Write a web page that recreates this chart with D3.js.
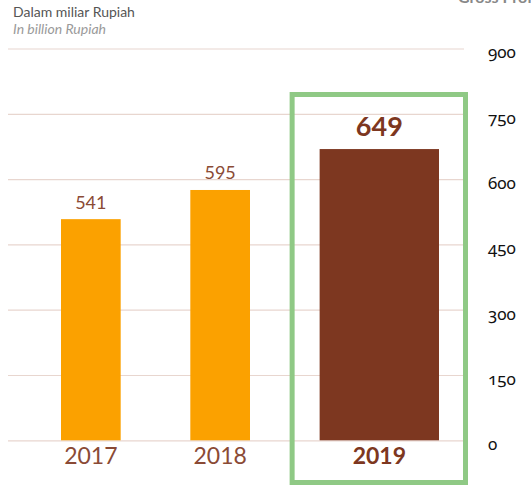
<!DOCTYPE html>
<html><head><meta charset="utf-8">
<script src="https://cdn.jsdelivr.net/npm/d3@7"></script>
<style>
html,body{margin:0;padding:0;background:#fff;overflow:hidden;}
svg{display:block;}
.tick-lbl{font-family:"Noto Sans",sans-serif;font-feature-settings:"onum" 1;font-variant-numeric:oldstyle-nums;}
</style></head>
<body>
<svg id="c" width="531" height="486"></svg>
<script>
const years = ["2017", "2018", "2019"];
const labelValues = [541, 595, 649];
const barValues = [508, 575, 669];   // bar heights as drawn in the reference
const highlight = [false, false, true];
const yTicks = [0, 150, 300, 450, 600, 750, 900];

const svg = d3.select("#c");
const W = 531, H = 486;

const y = d3.scaleLinear().domain([0, 900]).range([440.3, 48.5]);

// horizontal layout: normal bars 1 unit wide, highlighted bar 2 units, constant gap
const gap = 70 / 60;
const widths = highlight.map(h => h ? 2 : 1);
const starts = [];
let acc = 0;
widths.forEach((w, i) => { starts.push(acc); acc += w + (i < widths.length - 1 ? gap : 0); });
const x = d3.scaleLinear().domain([0, acc]).range([61, 439]);

// gridlines + right axis
const axis = d3.axisRight(y).tickValues(yTicks).tickSize(-(464 - 8)).tickPadding(24);
const g = svg.append("g").attr("transform", "translate(464,0)").call(axis);
g.select(".domain").remove();
g.selectAll(".tick line").attr("stroke", "#e8d6cf").attr("stroke-width", 1.2);
g.selectAll(".tick text").attr("class", "tick-lbl").attr("fill", "#111")
  .attr("font-size", 17).attr("dy", "0.55em").attr("x", 24);

// headers
svg.append("text").attr("x", 13).attr("y", 17).attr("font-family", "Lato, 'Noto Sans', sans-serif")
  .attr("font-size", 14).attr("fill", "#555").text("Dalam miliar Rupiah");
svg.append("text").attr("x", 13).attr("y", 34).attr("font-family", "Lato, 'Noto Sans', sans-serif")
  .attr("font-size", 14).attr("font-style", "italic").attr("fill", "#9a9a9a").text("In billion Rupiah");
svg.append("text").attr("x", 458).attr("y", 3).attr("font-family", "Lato, 'Noto Sans', sans-serif")
  .attr("font-size", 16).attr("font-weight", "bold").attr("fill", "#888").text("Gross Profit");

// bars
const data = years.map((yr, i) => ({yr, label: labelValues[i], v: barValues[i], hl: highlight[i], s: starts[i], w: widths[i]}));

svg.selectAll("rect.bar").data(data).join("rect").attr("class", "bar")
  .attr("x", d => x(d.s)).attr("width", d => x(d.s + d.w) - x(d.s))
  .attr("y", d => y(d.v)).attr("height", d => y(0) - y(d.v))
  .attr("fill", d => d.hl ? "#7d3720" : "#fba100");

// value labels
svg.selectAll("text.val").data(data).join("text").attr("class", "val")
  .attr("x", d => x(d.s + d.w / 2)).attr("y", d => y(d.v) - (d.hl ? 13 : 10.5))
  .attr("text-anchor", "middle").attr("font-family", "Lato, 'Noto Sans', sans-serif")
  .attr("font-size", d => d.hl ? 27 : 18).attr("font-weight", d => d.hl ? "bold" : "normal")
  .attr("fill", d => d.hl ? "#7d3720" : "#8a4a35").text(d => d.label);

// year labels
svg.selectAll("text.yr").data(data).join("text").attr("class", "yr")
  .attr("x", d => x(d.s + d.w / 2)).attr("y", 464)
  .attr("text-anchor", "middle").attr("font-family", "Lato, 'Noto Sans', sans-serif")
  .attr("font-size", 23).attr("font-weight", d => d.hl ? "bold" : "normal")
  .attr("fill", d => d.hl ? "#7d3720" : "#8a4a35").text(d => d.yr);

// highlight box
data.filter(d => d.hl).forEach(d => {
  const x0 = x(d.s) - 27.5, x1 = x(d.s + d.w) + 26.5;
  svg.append("rect").attr("x", x0).attr("y", 94.5).attr("width", x1 - x0).attr("height", 482.5 - 94.5)
    .attr("fill", "none").attr("stroke", "#8fc985").attr("stroke-width", 5);
});
</script>
</body></html>
